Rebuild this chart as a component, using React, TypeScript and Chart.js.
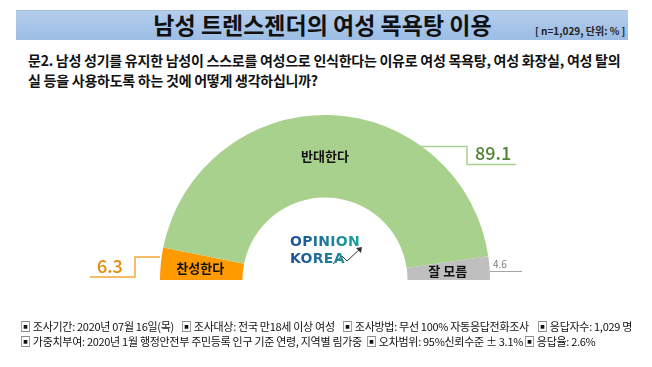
import React, { useEffect, useRef } from "react";
import { Chart, registerables } from "chart.js";

Chart.register(...registerables);

const categories = ["찬성한다", "반대한다", "잘 모름"];
const values = [6.3, 89.1, 4.6];
const valueLabels = ["6.3", "89.1", "4.6"];
const colors = ["#FF9A00", "#A9D18E", "#BFBFBF"];
const valueColors = ["#E48A00", "#548235", "#7F7F7F"];
const lineColors = ["#F4A83A", "#A9D18E", "#A6A6A6"];

const titleText = "남성 트렌스젠더의 여성 목욕탕 이용";
const sampleText = "[ n=1,029, 단위: % ]";
const questionLines = [
  "문2. 남성 성기를 유지한 남성이 스스로를 여성으로 인식한다는 이유로 여성 목욕탕, 여성 화장실, 여성 탈의",
  "실 등을 사용하도록 하는 것에 어떻게 생각하십니까?",
];
const footerLine1 = [
  "▣ 조사기간: 2020년 07월 16일(목)",
  "▣ 조사대상: 전국 만18세 이상 여성",
  "▣ 조사방법: 무선 100% 자동응답전화조사",
  "▣ 응답자수: 1,029 명",
];
const footerLine2 = [
  "▣ 가중치부여: 2020년 1월 행정안전부 주민등록 인구 기준 연령, 지역별 림가중",
  "▣ 오차범위: 95%신뢰수준 ± 3.1%",
  "▣ 응답율: 2.6%",
];
const footerX1 = [20, 181, 342, 537];
const footerX2 = [20, 366, 524];

const FONT = '"Noto Sans CJK KR", "Noto Sans", sans-serif';

const labelPlugin = {
  id: "halfLabels",
  afterDraw(chart: any) {
    const meta = chart.getDatasetMeta(0);
    if (!meta || !meta.data.length) return;
    const arc: any = meta.data[0];
    const cx = arc.x;
    const cy = arc.y;
    const R = arc.outerRadius;
    const r = arc.innerRadius;
    const ctx = chart.ctx;
    ctx.save();
    ctx.textAlign = "center";
    ctx.textBaseline = "middle";
    ctx.fillStyle = "#111";
    ctx.font = `bold 13px ${FONT}`;
    ctx.fillText(categories[1], cx, cy - R * 0.75);
    ctx.fillText(categories[0], cx - (R + r) / 2 - 1, cy - 12);
    ctx.fillText(categories[2], cx + (R + r) / 2 - 1, cy - 9);

    ctx.lineWidth = 1.5;
    ctx.strokeStyle = lineColors[1];
    ctx.beginPath();
    const a = (54 * Math.PI) / 180;
    const ax = cx + R * Math.cos(a);
    const ay = cy - R * Math.sin(a);
    ctx.moveTo(ax - 2, ay);
    ctx.lineTo(cx + 142, ay);
    ctx.lineTo(cx + 142, ay + 18);
    ctx.lineTo(cx + 191, ay + 18);
    ctx.stroke();
    ctx.strokeStyle = lineColors[0];
    ctx.beginPath();
    ctx.moveTo(cx - R, cy - 23);
    ctx.lineTo(cx - R - 25, cy - 23);
    ctx.lineTo(cx - R - 25, cy - 3);
    ctx.lineTo(cx - R - 70, cy - 3);
    ctx.stroke();
    ctx.strokeStyle = lineColors[2];
    ctx.lineWidth = 1;
    ctx.beginPath();
    ctx.moveTo(cx + R, cy - 8.5);
    ctx.lineTo(cx + R + 32, cy - 8.5);
    ctx.stroke();

    ctx.font = `500 18px ${FONT}`;
    ctx.fillStyle = valueColors[1];
    ctx.textAlign = "left";
    ctx.fillText(valueLabels[1], cx + 150, ay + 7);
    ctx.fillStyle = valueColors[0];
    ctx.fillText(valueLabels[0], cx - R - 63, cy - 14);
    ctx.font = `10px ${FONT}`;
    ctx.fillStyle = valueColors[2];
    ctx.fillText(valueLabels[2], cx + R + 3, cy - 16);

    // logo arrow
    ctx.strokeStyle = "#333";
    ctx.lineWidth = 1;
    ctx.beginPath();
    ctx.moveTo(cx + 8, cy - 16);
    ctx.lineTo(cx + 17, cy - 24);
    ctx.lineTo(cx + 22, cy - 19);
    ctx.lineTo(cx + 36, cy - 32);
    ctx.stroke();
    ctx.beginPath();
    ctx.moveTo(cx + 37, cy - 33);
    ctx.lineTo(cx + 31, cy - 32);
    ctx.lineTo(cx + 36, cy - 27);
    ctx.closePath();
    ctx.fillStyle = "#333";
    ctx.fill();
    ctx.restore();
  },
};

export default function App() {
  const ref = useRef<HTMLCanvasElement | null>(null);
  useEffect(() => {
    if (!ref.current) return;
    const chart = new Chart(ref.current, {
      type: "doughnut",
      data: {
        labels: categories,
        datasets: [
          {
            data: values,
            backgroundColor: colors,
            borderWidth: 0,
          },
        ],
      },
      options: {
        animation: false,
        responsive: false,
        rotation: -90,
        circumference: 180,
        cutout: "50%",
        layout: { padding: { left: 160, right: 162, top: 115, bottom: 87 } },
        plugins: { legend: { display: false }, tooltip: { enabled: false } },
      },
      plugins: [labelPlugin],
    });
    return () => chart.destroy();
  }, []);

  const footStyle: React.CSSProperties = {
    position: "absolute",
    fontSize: 11,
    color: "#111",
    lineHeight: "15px",
    whiteSpace: "pre",
    letterSpacing: -0.3,
  };

  return (
    <div
      style={{
        position: "fixed",
        left: 0,
        top: 0,
        width: 652,
        height: 367,
        background: "#fff",
        fontFamily: FONT,
        overflow: "hidden",
      }}
    >
      <div
        style={{
          position: "absolute",
          left: 16,
          top: 10,
          width: 612,
          height: 29,
          background: "linear-gradient(#B3CDEC, #9CBDE5)",
          borderTop: "1px solid #A9C0DA",
        }}
      />
      <div
        style={{
          position: "absolute",
          left: 0,
          width: 645,
          top: 7,
          textAlign: "center",
          fontSize: 23,
          fontWeight: 700,
          color: "#111",
          lineHeight: "34px",
          whiteSpace: "nowrap",
        }}
      >
        {titleText}
      </div>
      <div
        style={{
          position: "absolute",
          left: 535,
          top: 24,
          fontSize: 10,
          fontWeight: 700,
          color: "#222",
          lineHeight: "14px",
          whiteSpace: "nowrap",
        }}
      >
        {sampleText}
      </div>
      <div
        style={{
          position: "absolute",
          left: 28,
          top: 50,
          fontSize: 14,
          fontWeight: 700,
          color: "#111",
          lineHeight: "20px",
          whiteSpace: "nowrap",
          letterSpacing: -0.25,
        }}
      >
        {questionLines.map((l, i) => (
          <div key={i}>{l}</div>
        ))}
      </div>
      <canvas
        ref={ref}
        width={652}
        height={367}
        style={{ position: "absolute", left: 0, top: 0 }}
      />
      <div
        style={{
          position: "absolute",
          left: 290,
          top: 233,
          fontSize: 14,
          fontWeight: 900,
          lineHeight: "17px",
          fontFamily: '"DejaVu Sans", sans-serif',
          background: "linear-gradient(90deg, #1F4E9A, #1AA39A)",
          WebkitBackgroundClip: "text",
          backgroundClip: "text",
          color: "transparent",
          letterSpacing: 0.3,
        }}
      >
        <div>OPINION</div>
        <div>KOREA</div>
      </div>
      {footerLine1.map((t, i) => (
        <div key={"a" + i} style={{ ...footStyle, left: footerX1[i], top: 319 }}>
          {t}
        </div>
      ))}
      {footerLine2.map((t, i) => (
        <div key={"b" + i} style={{ ...footStyle, left: footerX2[i], top: 334 }}>
          {t}
        </div>
      ))}
    </div>
  );
}
